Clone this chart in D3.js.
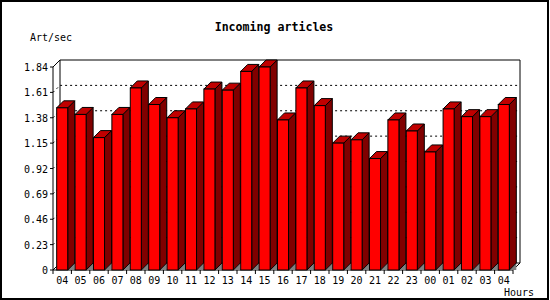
<!DOCTYPE html>
<html>
<head>
<meta charset="utf-8">
<script src="https://cdn.jsdelivr.net/npm/d3@7"></script>
<style>
  html, body { margin: 0; padding: 0; background: #fff; }
  svg text { font-family: 'DejaVu Sans Mono', monospace; fill: #000; }
</style>
</head>
<body>
<div id="chart"></div>
<script>
/* Incoming articles — 3D bar chart, hourly */

var hours = ['04', '05', '06', '07', '08', '09', '10', '11', '12', '13', '14', '15', '16',
             '17', '18', '19', '20', '21', '22', '23', '00', '01', '02', '03', '04'];
var rates = [1.47, 1.41, 1.20, 1.41, 1.65, 1.50, 1.38, 1.46, 1.64, 1.63, 1.80, 1.84, 1.36,
             1.65, 1.49, 1.15, 1.18, 1.01, 1.36, 1.26, 1.07, 1.46, 1.39, 1.39, 1.50];
var yTicks = [0, 0.23, 0.46, 0.69, 0.92, 1.15, 1.38, 1.61, 1.84];

var W = 550, H = 300;
var plotLeft = 53, plotRight = 513, plotBottom = 270, plotTop = 67;
var depth = 7;

var svg = d3.select('#chart').append('svg')
  .attr('width', W)
  .attr('height', H);

svg.append('rect')
  .attr('x', 1).attr('y', 1)
  .attr('width', W - 3).attr('height', H - 2)
  .attr('fill', '#fff')
  .attr('stroke', '#000')
  .attr('stroke-width', 2);

var x = d3.scaleBand()
  .domain(d3.range(hours.length))
  .range([plotLeft, plotRight])
  .padding(0);

var y = d3.scaleLinear()
  .domain([0, 1.84])
  .range([plotBottom, plotTop]);

var g = svg.append('g');

// gridlines on the back wall (with short diagonal on the side wall)
yTicks.slice(1, -1).forEach(function(t) {
  var yy = y(t);
  g.append('path')
    .attr('d', 'M' + plotLeft + ',' + yy + 'L' + (plotLeft + depth) + ',' + (yy - depth) +
               'L' + (plotRight + depth) + ',' + (yy - depth))
    .attr('fill', 'none')
    .attr('stroke', '#000')
    .attr('stroke-dasharray', '2,3');
});

// frame: back wall, left wall, floor
var yMax = y(1.84);
var frame = [
  [plotLeft + depth, yMax - depth, plotRight + depth, yMax - depth],
  [plotRight + depth, yMax - depth, plotRight + depth, plotBottom - depth],
  [plotLeft + depth, yMax - depth, plotLeft + depth, plotBottom - depth],
  [plotLeft + depth, plotBottom - depth, plotRight + depth, plotBottom - depth],
  [plotLeft, yMax, plotLeft + depth, yMax - depth],
  [plotLeft, plotBottom, plotLeft + depth, plotBottom - depth],
  [plotRight, plotBottom, plotRight + depth, plotBottom - depth],
  [plotLeft, plotBottom, plotRight, plotBottom],
  [plotLeft, yMax, plotLeft, plotBottom]
];
g.selectAll('line.frame')
  .data(frame)
  .enter().append('line')
  .attr('class', 'frame')
  .attr('x1', function(d) { return d[0]; })
  .attr('y1', function(d) { return d[1]; })
  .attr('x2', function(d) { return d[2]; })
  .attr('y2', function(d) { return d[3]; })
  .attr('stroke', '#000');

// y ticks + labels
var yAxis = g.append('g');
yAxis.selectAll('line')
  .data(yTicks)
  .enter().append('line')
  .attr('x1', plotLeft - 3).attr('x2', plotLeft)
  .attr('y1', function(d) { return y(d); })
  .attr('y2', function(d) { return y(d); })
  .attr('stroke', '#000');
yAxis.selectAll('text')
  .data(yTicks)
  .enter().append('text')
  .attr('x', 48)
  .attr('y', function(d) { return y(d) + 4; })
  .attr('text-anchor', 'end')
  .attr('font-size', '10px')
  .text(function(d) { return d === 0 ? '0' : d.toFixed(2); });

// x ticks + labels
var xAxis = g.append('g');
xAxis.selectAll('line')
  .data(d3.range(hours.length + 1))
  .enter().append('line')
  .attr('x1', function(i) { return plotLeft + i * x.bandwidth(); })
  .attr('x2', function(i) { return plotLeft + i * x.bandwidth(); })
  .attr('y1', plotBottom).attr('y2', plotBottom + 4)
  .attr('stroke', '#000');
xAxis.selectAll('text')
  .data(hours)
  .enter().append('text')
  .attr('x', function(d, i) { return x(i) + x.bandwidth() / 2; })
  .attr('y', 283.5)
  .attr('text-anchor', 'middle')
  .attr('font-size', '10px')
  .text(function(d) { return d; });

// bars
var bars = g.append('g').selectAll('g')
  .data(rates)
  .enter().append('g');

function bx(i) { return x(i) + x.bandwidth() * 0.2; }
var bw = x.bandwidth() * 0.6;

bars.append('path') // floor shadow
  .attr('d', function(d, i) {
    var x2 = bx(i) + bw;
    return 'M' + x2 + ',' + plotBottom + 'L' + (x2 + depth) + ',' + (plotBottom - depth) +
           'L' + (x2 + depth) + ',' + plotBottom + 'Z';
  })
  .attr('fill', '#808080');

bars.append('path') // side
  .attr('d', function(d, i) {
    var x2 = bx(i) + bw, yt = y(d);
    return 'M' + x2 + ',' + plotBottom + 'L' + (x2 + depth) + ',' + (plotBottom - depth) +
           'L' + (x2 + depth) + ',' + (yt - depth) + 'L' + x2 + ',' + yt + 'Z';
  })
  .attr('fill', '#800000')
  .attr('stroke', '#000')
  .attr('stroke-linejoin', 'round');

bars.append('path') // top
  .attr('d', function(d, i) {
    var x1 = bx(i), x2 = x1 + bw, yt = y(d);
    return 'M' + x1 + ',' + yt + 'L' + (x1 + depth) + ',' + (yt - depth) +
           'L' + (x2 + depth) + ',' + (yt - depth) + 'L' + x2 + ',' + yt + 'Z';
  })
  .attr('fill', '#c00000')
  .attr('stroke', '#000')
  .attr('stroke-linejoin', 'round');

bars.append('rect') // front
  .attr('x', function(d, i) { return bx(i); })
  .attr('y', function(d) { return y(d); })
  .attr('width', bw)
  .attr('height', function(d) { return plotBottom - y(d); })
  .attr('fill', '#ff0000')
  .attr('stroke', '#000');

// titles
svg.append('text')
  .attr('x', 274).attr('y', 31)
  .attr('text-anchor', 'middle')
  .attr('font-size', '11.6px')
  .attr('font-weight', 'bold')
  .text('Incoming articles');

svg.append('text')
  .attr('x', 30).attr('y', 40.5)
  .attr('font-size', '10px')
  .text('Art/sec');

svg.append('text')
  .attr('x', 504).attr('y', 296)
  .attr('font-size', '10px')
  .text('Hours');
</script>
</body>
</html>
